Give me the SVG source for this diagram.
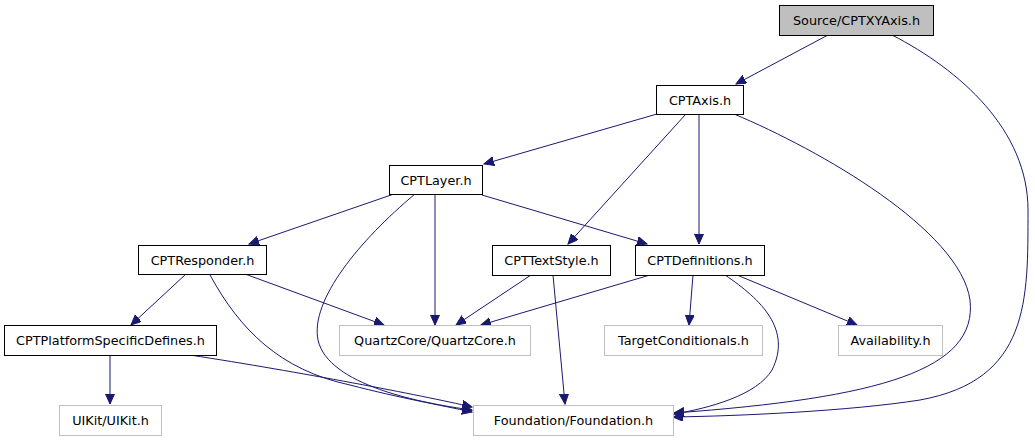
<svg xmlns="http://www.w3.org/2000/svg" width="1035" height="443" viewBox="0 0 1035 443">
<style>
.n rect{fill:#fff;stroke:#000;stroke-width:1}
.g rect{fill:#fff;stroke:#bfbfbf;stroke-width:1}
.src rect{fill:#bfbfbf;stroke:#000}
text{font-family:"DejaVu Sans",sans-serif;font-size:12.8px;fill:#000;text-anchor:middle}
.e path{fill:none;stroke:#191970;stroke-width:1;marker-end:url(#ah)}
</style>
<defs>
<marker id="ah" markerUnits="userSpaceOnUse" markerWidth="12" markerHeight="10" refX="10" refY="4.5" orient="auto">
<path d="M0,0 L10,4.5 L0,9 z" fill="#191970" stroke="#191970"/>
</marker>
</defs>
<g class="e" id="edges">
<path d="M828,35 L736,84"/>
<path d="M892,35 C960,70 1028,130 1028,210 C1028,300 1030,380 920,400 C850,411 740,416 673,417"/>
<path d="M657,114 L484,164"/>
<path d="M686,114 L568,244"/>
<path d="M699,114 L699,244"/>
<path d="M734,114 C820,150 960,230 970,300 C978,370 880,398 674,413"/>
<path d="M394,194 L249,244"/>
<path d="M415,194 C360,240 310,300 318,340 C328,385 420,403 472,410"/>
<path d="M435,194 L435,325"/>
<path d="M482,195 L647,244"/>
<path d="M186,274 L131,325"/>
<path d="M245,274 L384,325"/>
<path d="M210,275 C240,330 280,370 350,385 C400,398 440,405 472,412"/>
<path d="M531,275 L456,325"/>
<path d="M553,275 L565,404"/>
<path d="M650,275 L481,325"/>
<path d="M693,275 L689,325"/>
<path d="M737,275 L857,325"/>
<path d="M725,275 C762,300 792,330 772,370 C757,395 710,408 674,414"/>
<path d="M110,355 L110,404"/>
<path d="M190,355 C300,372 420,395 472,407"/>
</g>
<g class="n src" id="n_source"><rect x="779.5" y="5.5" width="154" height="30"/><text x="856.5" y="25">Source/CPTXYAxis.h</text></g>
<g class="n" id="n_axis"><rect x="656.5" y="85.5" width="87" height="29"/><text x="700" y="105">CPTAxis.h</text></g>
<g class="n" id="n_layer"><rect x="389.5" y="165.5" width="93" height="29"/><text x="436" y="185">CPTLayer.h</text></g>
<g class="n" id="n_responder"><rect x="138.5" y="245.5" width="128" height="29"/><text x="202.5" y="265">CPTResponder.h</text></g>
<g class="n" id="n_textstyle"><rect x="492.5" y="245.5" width="118" height="30"/><text x="551.5" y="265">CPTTextStyle.h</text></g>
<g class="n" id="n_definitions"><rect x="635.5" y="245.5" width="129" height="30"/><text x="700" y="265">CPTDefinitions.h</text></g>
<g class="n" id="n_platform"><rect x="4.5" y="325.5" width="212" height="30"/><text x="110.5" y="345">CPTPlatformSpecificDefines.h</text></g>
<g class="g" id="n_quartz"><rect x="339.5" y="325.5" width="191" height="30"/><text x="435" y="345">QuartzCore/QuartzCore.h</text></g>
<g class="g" id="n_target"><rect x="604.5" y="325.5" width="158" height="30"/><text x="683.5" y="345">TargetConditionals.h</text></g>
<g class="g" id="n_avail"><rect x="838.5" y="325.5" width="104" height="30"/><text x="890.5" y="345">Availability.h</text></g>
<g class="g" id="n_uikit"><rect x="59.5" y="405.5" width="102" height="30"/><text x="110.5" y="425">UIKit/UIKit.h</text></g>
<g class="g" id="n_foundation"><rect x="473.5" y="405.5" width="200" height="30"/><text x="573.5" y="425">Foundation/Foundation.h</text></g>
</svg>
